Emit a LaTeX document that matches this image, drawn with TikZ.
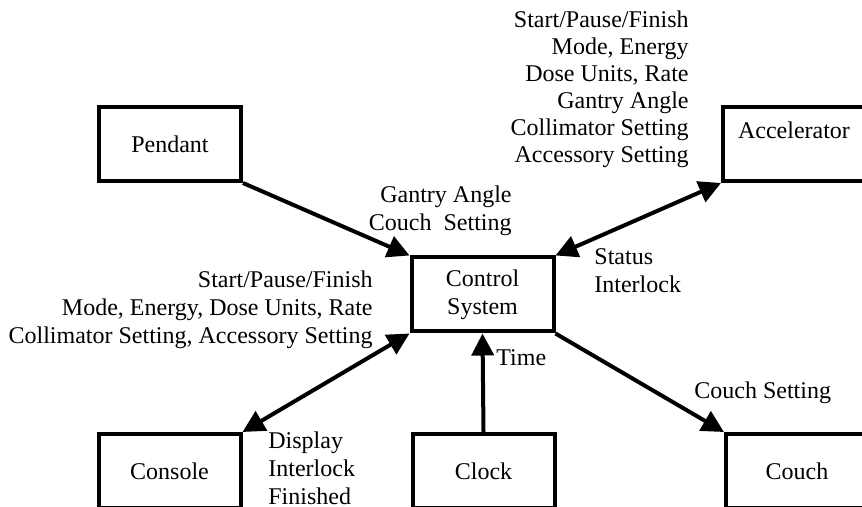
\documentclass[tikz,border=0pt]{standalone}
\usepackage{fontspec}
\setmainfont{Liberation Serif}
\usetikzlibrary{arrows.meta}

\tikzset{
  unit/.style={draw, line width=2pt, minimum width=71pt, minimum height=37pt, align=center, font=\fontsize{12}{14}\selectfont},
  flow/.style={line width=2pt, -{Triangle[length=11pt,width=11pt]}},
  both/.style={line width=2pt, {Triangle[length=11pt,width=11pt]}-{Triangle[length=11pt,width=11pt]}},
  note/.style={inner sep=0pt, font=\fontsize{12}{14}\selectfont}
}

\begin{document}
\begin{tikzpicture}[x=0.5pt, y=-0.5pt]
    \clip (0,0) rectangle (862,507);
    \node[unit] (P) at (170,144) {Pendant};
    \node[unit] (A) at (794,144) {Accelerator\\\mbox{}};
    \node[unit] (S) at (482.5,294.5) {Control\\System};
    \node[unit] (Co) at (169.5,471) {Console};
    \node[unit] (Cl) at (483.5,471) {Clock};
    \node[unit] (Cu) at (797,471) {Couch};
    \draw[flow] (P.south east) -- (S.north west);
    \draw[both] (S.north east) -- (A.south west);
    \draw[both] (S.south west) -- (Co.north east);
    \draw[flow] (Cl.north) -- (S.south);
    \draw[flow] (S.south east) -- (Cu.north west);
    % data carried on each link
    \node[note, align=right, anchor=east, font=\fontsize{12}{13.5}\selectfont] (toA) at (689,89)
    {Start/Pause/Finish\\Mode, Energy\\Dose Units, Rate\\Gantry Angle\\Collimator Setting\\Accessory Setting};
    \node[note, align=right, anchor=east] (fromP) at (512,211) {Gantry Angle\\Couch\ \ Setting};
    \node[note, align=left, anchor=west] (fromA) at (594,271) {Status\\Interlock};
    \node[note, align=right, anchor=east] (fromCo) at (373,310)
    {Start/Pause/Finish\\Mode, Energy, Dose Units, Rate\\Collimator Setting, Accessory Setting};
    \node[note, align=left, anchor=west] (toCo) at (268,468) {Display\\Interlock\\Finished};
    \node[note, anchor=west] (fromCl) at (496,358) {Time};
    \node[note, anchor=west] (toCu) at (694,393) {Couch Setting};
  \end{tikzpicture}
\end{document}
